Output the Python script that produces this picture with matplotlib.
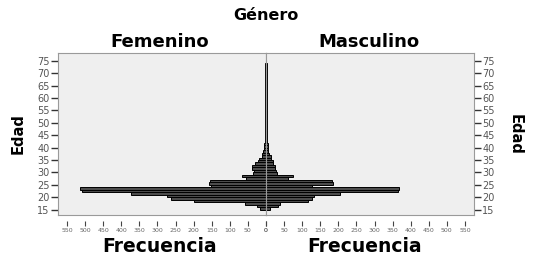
import numpy as np
import matplotlib.pyplot as plt

# Edad (años) y frecuencias por género
edades = list(range(15, 74))
femenino = [17, 25, 58, 200, 262, 275, 372, 510, 515, 152, 158, 155, 56, 66, 36,
            34, 40, 38, 30, 22, 20, 12, 10, 7,
            6, 5, 5, 4, 4, 4, 3, 3, 3, 3, 3, 3, 2, 2, 2, 2, 2, 2, 2, 2,
            2, 2, 2, 2, 2, 2, 2, 2, 2, 2, 2, 2, 2, 2, 2]
masculino = [10, 33, 40, 115, 128, 134, 205, 365, 368, 128, 184, 182, 62, 75, 30,
             28, 26, 26, 20, 20, 15, 13, 8, 6,
             6, 5, 5, 4, 4, 4, 3, 3, 3, 3, 3, 3, 2, 2, 2, 2, 2, 2, 2, 2,
             2, 2, 2, 2, 2, 2, 2, 2, 2, 2, 2, 2, 2, 2, 2]
ticks_x = list(range(0, 551, 50))
ticks_y = list(range(15, 76, 5))

W, H = 537, 258
fig = plt.figure(figsize=(W / 100, H / 100), dpi=100)
plt.rcParams['font.family'] = ['DejaVu Sans']

bg = '#efefef'
bar_col = '#4c4c4c'


def panel(rect, valores, lado):
    ax = fig.add_axes(rect)
    ax.set_facecolor(bg)
    for s in ax.spines.values():
        s.set_color('#9a9a9a')
        s.set_linewidth(0.8)
    ax.spines['bottom'].set_position(('outward', 4))
    ax.spines['bottom'].set_visible(False)
    # borde inferior del marco
    ax.plot([0, 1], [0, 0], transform=ax.transAxes, color='#9a9a9a',
            linewidth=0.8, clip_on=False)
    ax.barh(edades, valores, height=1.0, align='edge', color=bar_col,
            edgecolor='black', linewidth=0.7)
    ax.axvline(0, color='#808080', linewidth=0.6)
    ax.set_ylim(12.8, 78.2)
    ax.set_xlim(0, 575)
    if lado == 'izq':
        ax.invert_xaxis()
    ax.set_xticks(ticks_x)
    ax.tick_params(axis='x', direction='out', length=3.5, width=0.8,
                   color='#444444', pad=2, labelsize=4.5, labelcolor='#666666')
    ax.set_yticks(ticks_y)
    ax.tick_params(axis='y', direction='out', length=5, width=1.0,
                   color='#333333', pad=1, labelsize=7, labelcolor='#555555')
    if lado == 'der':
        ax.yaxis.tick_right()
    else:
        ax.yaxis.tick_left()
    return ax


x0, x1, xm = 58 / W, 474 / W, 266 / W
y_bot, y_top = 1 - 215 / H, 1 - 53 / H
ax_f = panel([x0, y_bot, xm - x0, y_top - y_bot], femenino, 'izq')
ax_m = panel([xm, y_bot, x1 - xm, y_top - y_bot], masculino, 'der')

fig.text(266 / W, 1 - 15 / H, 'Género', ha='center', va='center',
         fontsize=11.5, fontweight='bold')
fig.text(160 / W, 1 - 42 / H, 'Femenino', ha='center', va='center',
         fontsize=13, fontweight='bold')
fig.text(369 / W, 1 - 42 / H, 'Masculino', ha='center', va='center',
         fontsize=13, fontweight='bold')
fig.text(160 / W, 1 - 246 / H, 'Frecuencia', ha='center', va='center',
         fontsize=13.5, fontweight='bold')
fig.text(365 / W, 1 - 246 / H, 'Frecuencia', ha='center', va='center',
         fontsize=13.5, fontweight='bold')
fig.text(18 / W, 1 - 134 / H, 'Edad', ha='center', va='center', rotation=90,
         fontsize=10.5, fontweight='bold')
fig.text(515 / W, 1 - 134 / H, 'Edad', ha='center', va='center', rotation=270,
         fontsize=10.5, fontweight='bold')

fig.savefig('out.png', dpi=100)
